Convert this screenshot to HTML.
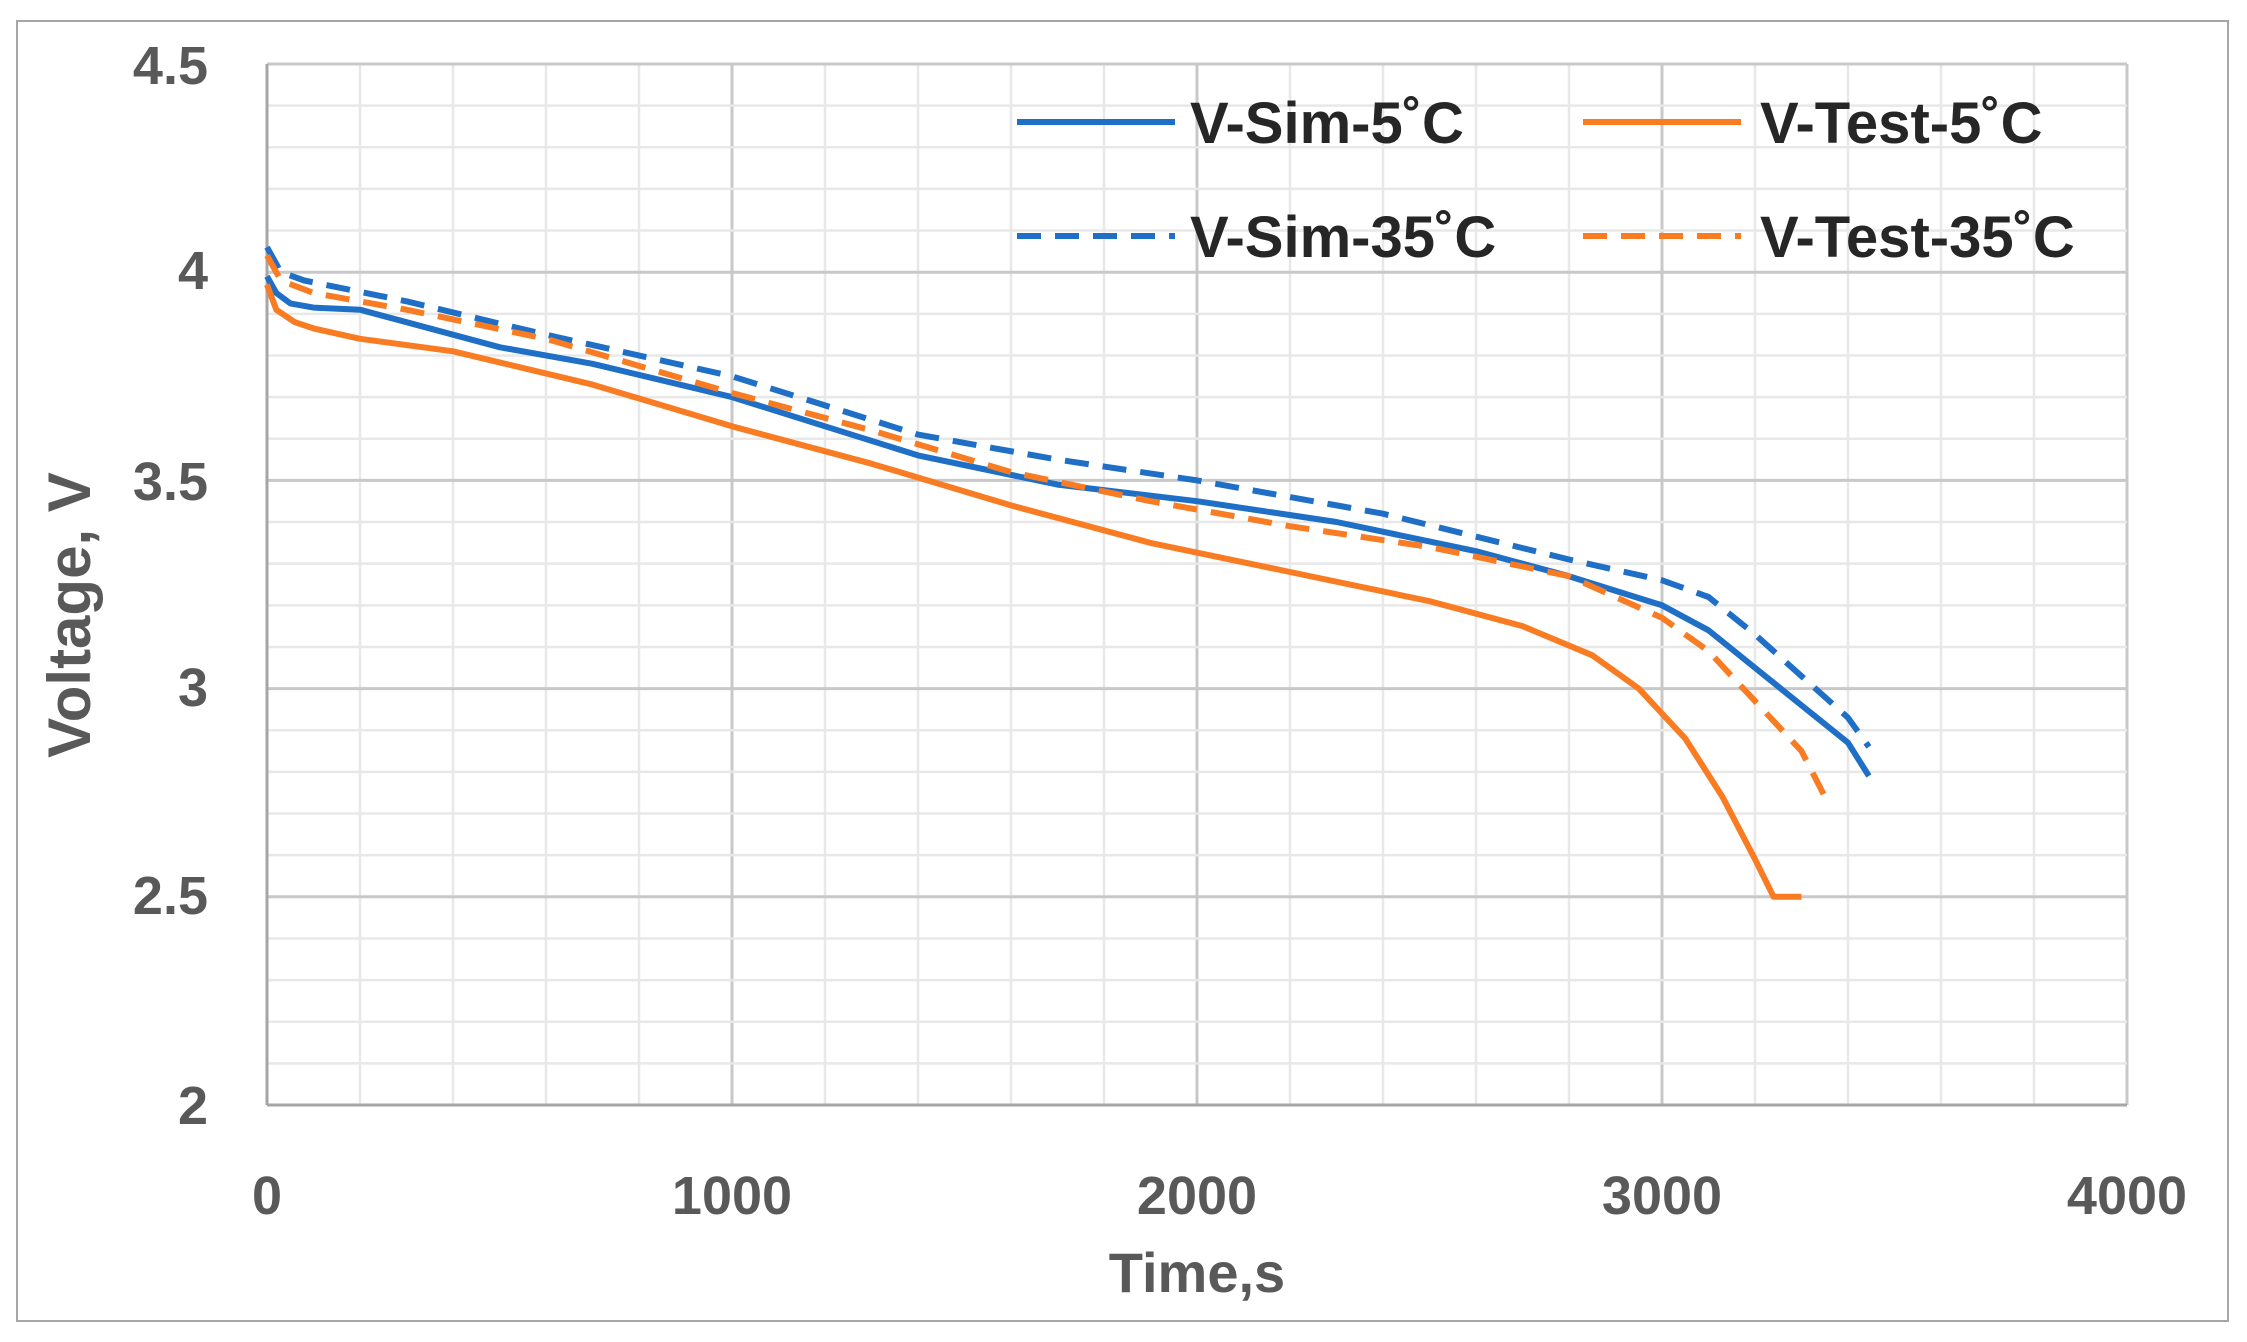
<!DOCTYPE html>
<html><head><meta charset="utf-8"><style>
html,body{margin:0;padding:0;background:#fff;}
svg{display:block;font-family:"Liberation Sans",sans-serif;}
</style></head><body>
<svg id="s" width="2247" height="1342" viewBox="0 0 2247 1342" xmlns="http://www.w3.org/2000/svg">
<rect x="0" y="0" width="2247" height="1342" fill="#fff"/>
<rect x="17" y="21" width="2211" height="1300" fill="#fff" stroke="#a6a6a6" stroke-width="2"/>
<g id="grid"></g>
<g id="lines"></g>
<g font-weight="bold" fill="#595959" font-size="54">
<text x="208" y="84" text-anchor="end">4.5</text>
<text x="208" y="289" text-anchor="end">4</text>
<text x="208" y="500" text-anchor="end">3.5</text>
<text x="208" y="706" text-anchor="end">3</text>
<text x="208" y="914" text-anchor="end">2.5</text>
<text x="208" y="1124" text-anchor="end">2</text>
<text x="267" y="1214" text-anchor="middle">0</text>
<text x="732" y="1214" text-anchor="middle">1000</text>
<text x="1197" y="1214" text-anchor="middle">2000</text>
<text x="1662" y="1214" text-anchor="middle">3000</text>
<text x="2127" y="1214" text-anchor="middle">4000</text>
<text x="1197" y="1292" text-anchor="middle" font-size="56">Time,s</text>
<text transform="translate(90,615) rotate(-90)" text-anchor="middle" font-size="60">Voltage, V</text>
</g>
<g font-weight="bold" fill="#262626" font-size="58">
<line x1="1017" y1="122" x2="1175" y2="122" stroke="#1f6fc6" stroke-width="6"/>
<text x="1190" y="143">V-Sim-5˚C</text>
<line x1="1583" y1="122" x2="1741" y2="122" stroke="#f97b22" stroke-width="6"/>
<text x="1760" y="143">V-Test-5˚C</text>
<line x1="1017" y1="236" x2="1175" y2="236" stroke="#1f6fc6" stroke-width="6" stroke-dasharray="24,14"/>
<text x="1190" y="257">V-Sim-35˚C</text>
<line x1="1583" y1="236" x2="1741" y2="236" stroke="#f97b22" stroke-width="6" stroke-dasharray="24,14"/>
<text x="1760" y="257">V-Test-35˚C</text>
</g>
</svg>
<script>
(function(){
var L=267,R=2127,T=64,B=1105;
function X(t){return L+t*0.465;}
function Y(v){return B-(v-2)*416.4;}
var g=document.getElementById('grid'),h='';
for(var i=0;i<=20;i++){var x=L+(R-L)*i/20;var maj=i%5==0;
 h+='<line x1="'+x+'" y1="'+T+'" x2="'+x+'" y2="'+B+'" stroke="'+(maj?'#c8c8c8':'#e8e8e8')+'" stroke-width="'+(maj?3:2.5)+'"/>';}
for(var j=0;j<=25;j++){var y=T+(B-T)*j/25;var maj=j%5==0;
 h+='<line x1="'+L+'" y1="'+y+'" x2="'+R+'" y2="'+y+'" stroke="'+(maj?'#c8c8c8':'#e8e8e8')+'" stroke-width="'+(maj?3:2.5)+'"/>';}
h+='<line x1="'+L+'" y1="'+T+'" x2="'+L+'" y2="'+B+'" stroke="#a6a6a6" stroke-width="3"/>';
h+='<line x1="'+L+'" y1="'+B+'" x2="'+R+'" y2="'+B+'" stroke="#a6a6a6" stroke-width="3"/>';
g.innerHTML=h;
var S=[
 ['#1f6fc6','',[[0,3.99],[20,3.95],[50,3.925],[100,3.915],[200,3.91],[300,3.88],[500,3.82],[700,3.78],[1000,3.70],[1200,3.63],[1400,3.56],[1700,3.49],[2000,3.45],[2300,3.40],[2600,3.33],[2800,3.27],[3000,3.20],[3100,3.14],[3200,3.05],[3300,2.96],[3400,2.87],[3445,2.79]]],
 ['#1f6fc6','24,14',[[0,4.06],[30,4.0],[80,3.98],[300,3.93],[600,3.85],[1000,3.75],[1200,3.68],[1400,3.61],[1700,3.55],[2000,3.50],[2400,3.42],[2800,3.31],[3000,3.26],[3100,3.22],[3200,3.13],[3300,3.03],[3400,2.93],[3445,2.86]]],
 ['#f97b22','',[[0,3.97],[20,3.91],[60,3.88],[100,3.865],[200,3.84],[400,3.81],[700,3.73],[1000,3.63],[1300,3.54],[1600,3.44],[1900,3.35],[2200,3.28],[2500,3.21],[2700,3.15],[2850,3.08],[2950,3.0],[3050,2.88],[3130,2.74],[3200,2.59],[3240,2.50],[3300,2.50]]],
 ['#f97b22','24,14',[[0,4.04],[30,3.98],[100,3.95],[300,3.91],[600,3.84],[1000,3.71],[1300,3.62],[1600,3.52],[1900,3.45],[2200,3.39],[2500,3.34],[2800,3.27],[3000,3.17],[3100,3.09],[3200,2.97],[3300,2.85],[3355,2.73]]]
];
var o='';
S.forEach(function(s){var d='';s[2].forEach(function(p,k){d+=(k?'L':'M')+X(p[0]).toFixed(1)+' '+Y(p[1]).toFixed(1);});
 o+='<path d="'+d+'" fill="none" stroke="'+s[0]+'" stroke-width="6" stroke-linejoin="round"'+(s[1]?' stroke-dasharray="'+s[1]+'"':'')+'/>';});
document.getElementById('lines').innerHTML=o;
})();
</script>
</body></html>
